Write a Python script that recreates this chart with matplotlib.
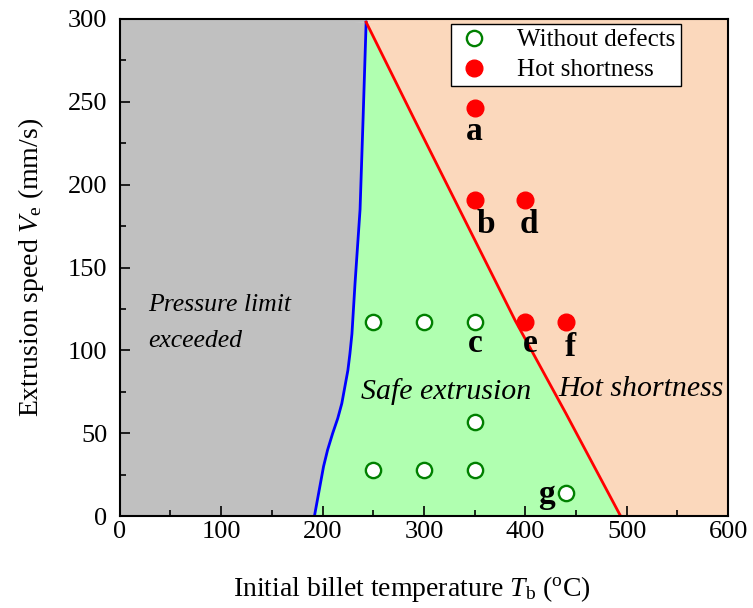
import matplotlib
matplotlib.use('Agg')
import matplotlib.pyplot as plt
from matplotlib.lines import Line2D

plt.rcParams['font.family'] = 'Liberation Serif'
plt.rcParams['mathtext.fontset'] = 'custom'
plt.rcParams['mathtext.rm'] = 'Liberation Serif'
plt.rcParams['mathtext.it'] = 'Liberation Serif:italic'

# boundary curves (temperature, speed)
blue_T = [192, 195, 198, 201, 205, 210, 215, 219, 222, 225, 227, 229, 230.5, 232, 234, 237, 240, 243]
blue_V = [0, 10, 20, 30, 40, 50, 59, 68, 78, 88, 98, 110, 125, 140, 158, 185, 240, 298]
red_T = [243, 290, 340, 390, 440, 494]
red_V = [298, 240, 179, 118, 62, 0]

# experiment points
ok_T = [250, 300, 350, 350, 250, 300, 350, 440]
ok_V = [117, 117, 117, 57, 28, 28, 28, 14]
hot_T = [350, 350, 400, 400, 440]
hot_V = [246, 191, 191, 117, 117]

labels = ['a', 'b', 'c', 'd', 'e', 'f', 'g']
label_T = [350, 361, 351, 404, 405, 444, 421]
label_V = [232, 176, 104, 176, 104, 102, 13]

fig = plt.figure(figsize=(7.53, 6.08), dpi=100)
ax = fig.add_axes([0.159, 0.151, 0.808, 0.818])

# regions
ax.fill([0] + blue_T + [0], [0] + blue_V + [300], color='#c0c0c0', lw=0)
ax.fill(blue_T + red_T, blue_V + red_V, color='#b0ffb0', lw=0)
ax.fill(red_T + [600, 600], red_V + [0, 300], color='#fbd8bc', lw=0)
ax.fill([243, 243, 600, 600], [298, 300, 300, 298], color='#fbd8bc', lw=0)
ax.fill([0, 0, 243, 243], [298, 300, 300, 298], color='#c0c0c0', lw=0)

ax.plot(blue_T, blue_V, color='blue', lw=2.0)
ax.plot(red_T, red_V, color='red', lw=2.0)

ax.plot(ok_T, ok_V, 'o', ms=11, mfc='white', mec='green', mew=1.7, ls='none')
ax.plot(hot_T, hot_V, 'o', ms=12, mfc='red', mec='red', ls='none')

for s, t, v in zip(labels, label_T, label_V):
    ax.text(t, v, s, fontsize=24, fontweight='bold', ha='center', va='center')

ax.text(28, 116.5, 'Pressure limit\nexceeded', fontsize=18.5, style='italic',
        ha='left', va='center', linespacing=1.85)
ax.text(322, 75, 'Safe extrusion', fontsize=21.5, style='italic', ha='center', va='center')
ax.text(433, 77, 'Hot shortness', fontsize=21.5, style='italic', ha='left', va='center')

ax.set_xlim(0, 600)
ax.set_ylim(0, 300)
ax.set_xticks(range(0, 601, 100))
ax.set_yticks(range(0, 301, 50))
ax.set_xticks(range(50, 600, 100), minor=True)
ax.set_yticks(range(25, 300, 50), minor=True)
ax.tick_params(which='both', direction='in', labelsize=19, width=1.2)
ax.tick_params(which='major', length=7)
ax.tick_params(which='minor', length=4)
ax.tick_params(axis='y', which='major', pad=9)
for sp in ax.spines.values():
    sp.set_linewidth(1.5)

ax.set_xlabel(r'Initial billet temperature $\mathit{T}_\mathrm{b}$ ($^\mathrm{o}$C)', fontsize=20, labelpad=22)
ax.xaxis.label.set_x(0.48)
ax.set_ylabel(r'Extrusion speed $\mathit{V}_\mathrm{e}$ (mm/s)', fontsize=20, labelpad=16)

handles = [
    Line2D([], [], marker='o', ls='none', ms=11, mfc='white', mec='green', mew=1.7),
    Line2D([], [], marker='o', ls='none', ms=12, mfc='red', mec='red'),
]
leg = ax.legend(handles, ['Without defects', 'Hot shortness'], loc='upper right',
                bbox_to_anchor=(0.922, 0.99), fontsize=18, fancybox=False,
                edgecolor='black', framealpha=1, handlelength=1.4, handletextpad=1.05,
                borderpad=0.2, labelspacing=0.3, borderaxespad=0)
leg.get_frame().set_linewidth(1.0)

fig.savefig('out.png', dpi=100)
